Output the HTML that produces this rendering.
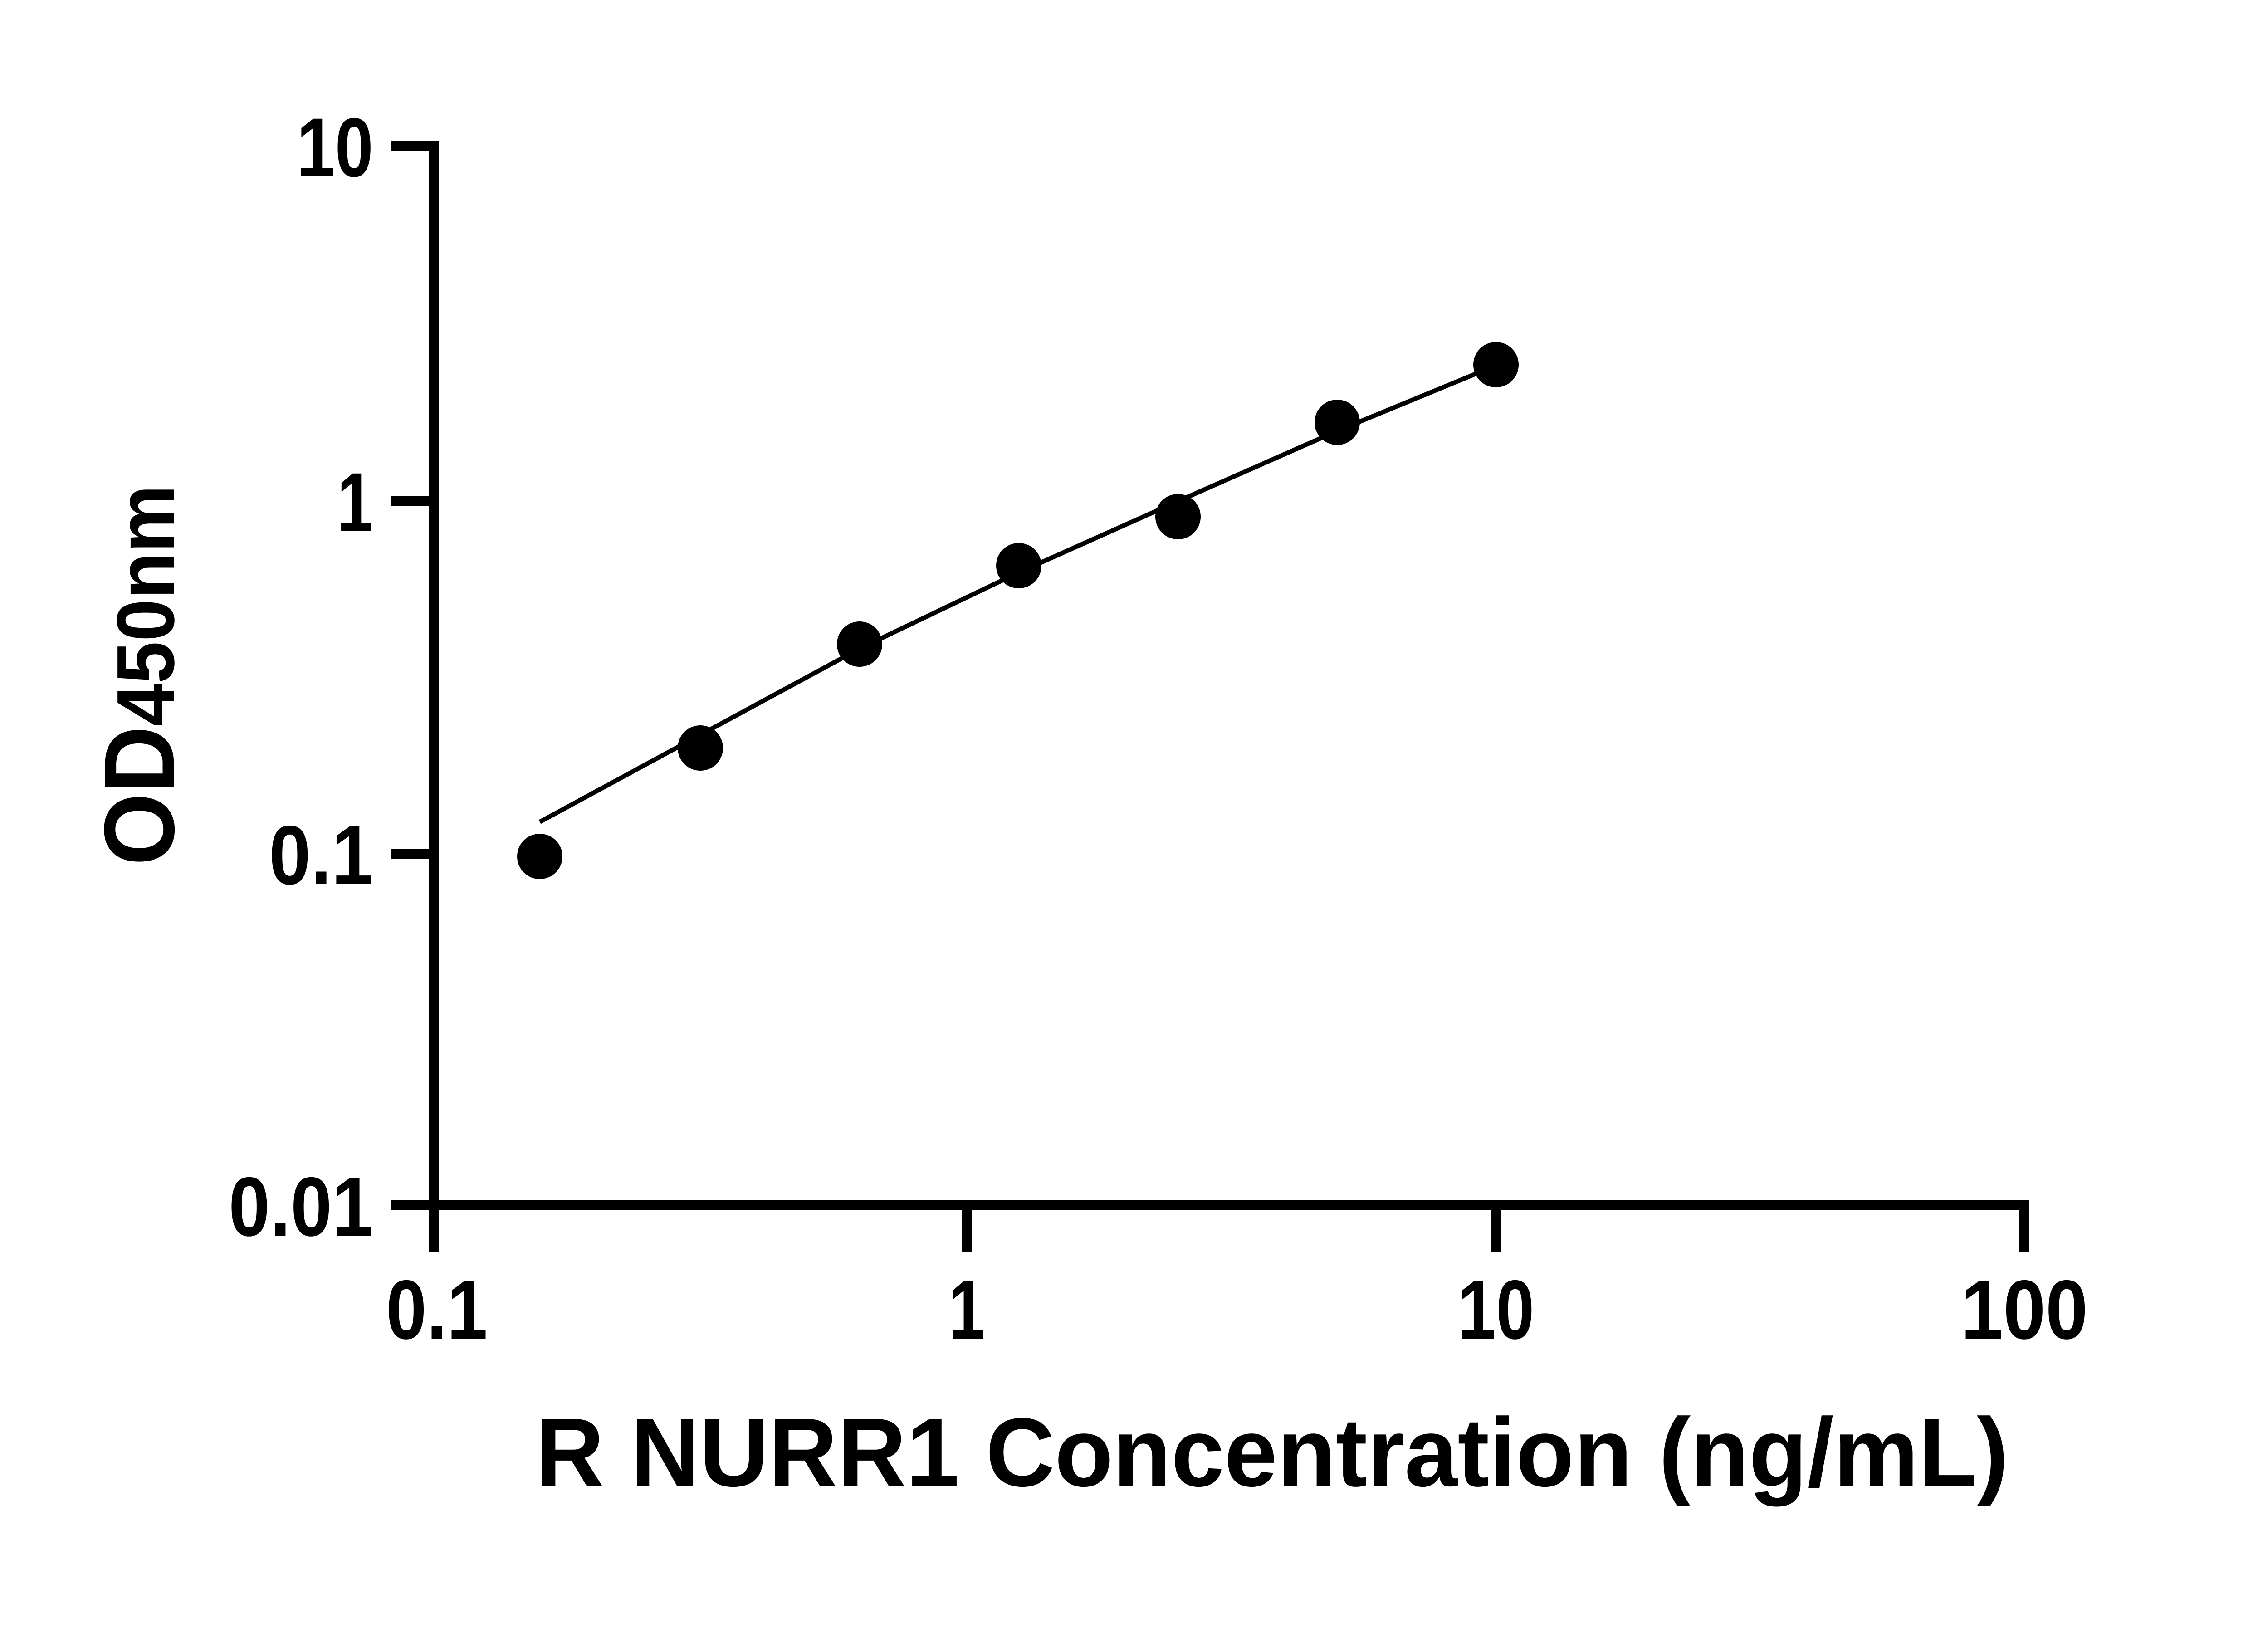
<!DOCTYPE html>
<html><head><meta charset="utf-8"><style>html,body{margin:0;padding:0;background:#fff}svg{display:block}</style></head>
<body>
<svg width="5142" height="3600" viewBox="0 0 5142 3600" xmlns="http://www.w3.org/2000/svg">
<rect width="5142" height="3600" fill="#fff"/>
<g stroke="#000" stroke-width="22" fill="none" stroke-linecap="butt">
<line x1="957" y1="311" x2="957" y2="2668"/>
<line x1="946" y1="2657" x2="4474" y2="2657"/>
<line x1="861" y1="322" x2="968" y2="322"/>
<line x1="861" y1="1104" x2="957" y2="1104"/>
<line x1="861" y1="1882" x2="957" y2="1882"/>
<line x1="861" y1="2657" x2="957" y2="2657"/>
<line x1="957" y1="2657" x2="957" y2="2759"/>
<line x1="2131" y1="2657" x2="2131" y2="2759"/>
<line x1="3298" y1="2657" x2="3298" y2="2759"/>
<line x1="4463" y1="2646" x2="4463" y2="2759"/>
</g>
<polyline fill="none" stroke="#000" stroke-width="10" points="1190,1812 1544,1620 1895,1430 2246,1262 2597,1105 2948,950 3256,823"/>
<g fill="#000">
<circle cx="1190" cy="1888" r="50"/>
<circle cx="1544" cy="1649" r="50"/>
<circle cx="1895" cy="1420" r="50"/>
<circle cx="2246" cy="1247" r="50"/>
<circle cx="2597" cy="1139" r="50"/>
<circle cx="2948" cy="931" r="50"/>
<circle cx="3298" cy="804" r="50"/>
</g>
<g font-family="Liberation Sans, Arial, sans-serif" font-weight="bold" font-size="185" fill="#000">
<text x="823" y="389" text-anchor="end" textLength="169" lengthAdjust="spacingAndGlyphs">10</text>
<text x="823" y="1171" text-anchor="end" textLength="80" lengthAdjust="spacingAndGlyphs">1</text>
<text x="823" y="1949" text-anchor="end" textLength="230" lengthAdjust="spacingAndGlyphs">0.1</text>
<text x="823" y="2724" text-anchor="end" textLength="319" lengthAdjust="spacingAndGlyphs">0.01</text>
<text x="963" y="2951" text-anchor="middle" textLength="224" lengthAdjust="spacingAndGlyphs">0.1</text>
<text x="2131" y="2951" text-anchor="middle" textLength="80" lengthAdjust="spacingAndGlyphs">1</text>
<text x="3298" y="2951" text-anchor="middle" textLength="169" lengthAdjust="spacingAndGlyphs">10</text>
<text x="4463" y="2951" text-anchor="middle" textLength="280" lengthAdjust="spacingAndGlyphs">100</text>
</g>
<text x="1180" y="3276" font-family="Liberation Sans, Arial, sans-serif" font-weight="bold" font-size="215" textLength="3248" lengthAdjust="spacingAndGlyphs">R NURR1 Concentration (ng/mL)</text>
<text transform="translate(383,1908) rotate(-90)" font-family="Liberation Sans, Arial, sans-serif" font-weight="bold" font-size="220" textLength="839" lengthAdjust="spacingAndGlyphs">OD<tspan font-size="180">450nm</tspan></text>
</svg>
</body></html>
